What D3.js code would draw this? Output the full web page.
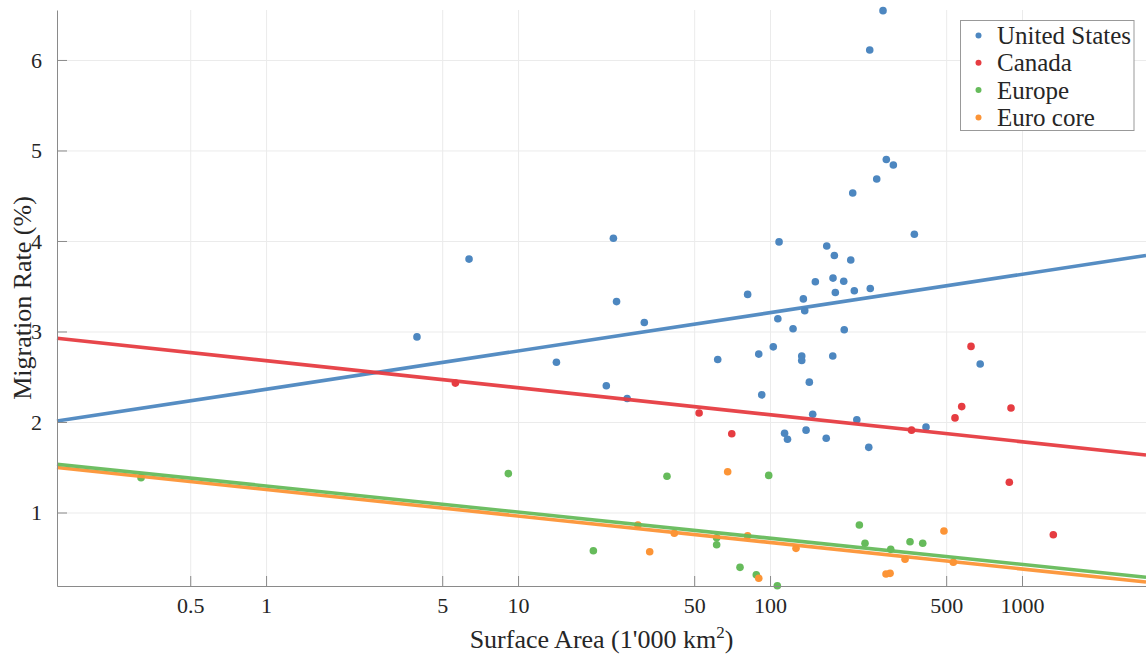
<!DOCTYPE html>
<html>
<head>
<meta charset="utf-8">
<script src="https://cdn.jsdelivr.net/npm/d3@7"></script>
<style>
  body { margin: 0; background: #fff; }
  svg text { font-family: "Liberation Serif", "Times New Roman", serif; fill: #262626; }
</style>
</head>
<body>
<script>
// surface area (1'000 km2) and migration rate (%)
const usArea = [3.97, 6.39, 14.2, 22.4, 23.9, 24.6, 27.1, 31.7, 62.0, 81.5, 90.2, 92.7, 103, 108.6, 107.4, 114.2,
  117.3, 123.4, 133.6, 133.6, 135.6, 137.3, 139.0, 143.2, 147.7, 151.3, 167.9, 167.1, 177.8, 180.0, 181.6, 196.1,
  197.0, 209.1, 212.9, 216.0, 221.0, 246.5, 249.9, 248.7, 265.1, 280.8, 289.4, 308.6, 373.9, 415.9, 682.4, 177.4];
const usRate = [2.94, 3.80, 2.66, 2.40, 4.03, 3.33, 2.26, 3.10, 2.69, 3.41, 2.75, 2.30, 2.83, 3.99, 3.14, 1.875,
  1.81, 3.03, 2.73, 2.68, 3.36, 3.23, 1.91, 2.44, 2.085, 3.55, 3.945, 1.82, 3.59, 3.84, 3.43, 3.555,
  3.02, 3.79, 4.53, 3.45, 2.025, 1.72, 3.475, 6.11, 4.685, 6.545, 4.90, 4.84, 4.074, 1.945, 2.64, 2.73];

const caArea = [5.64, 52.3, 70.5, 364.4, 542.1, 576.3, 627.6, 904.3, 890.5, 1331];
const caRate = [2.43, 2.10, 1.87, 1.91, 2.045, 2.17, 2.835, 2.155, 1.334, 0.755];

const euArea = [0.319, 9.15, 19.9, 39.0, 61.4, 61.4, 76.0, 88.2, 98.8, 106.9, 226.2, 238.2, 301.3, 359.4, 403.6];
const euRate = [1.385, 1.43, 0.578, 1.40, 0.644, 0.72, 0.394, 0.313, 1.41, 0.19, 0.862, 0.66, 0.593, 0.677, 0.66];

const coreArea = [29.9, 33.3, 41.7, 67.9, 81.5, 90.2, 126.8, 288.6, 299.5, 343.4, 490, 533.8];
const coreRate = [0.862, 0.567, 0.77, 1.45, 0.744, 0.273, 0.604, 0.32, 0.328, 0.483, 0.796, 0.45];

// fitted trend lines, value at left and right end of the x range
const fitArea = [0.148, 3105];
const usFit = [2.01, 3.84];
const caFit = [2.925, 1.635];
const euFit = [1.533, 0.285];
const coreFit = [1.497, 0.232];

const seriesNames = ["United States", "Canada", "Europe", "Euro core"];
const xTicks = [0.5, 1, 5, 10, 50, 100, 500, 1000];
const yTicks = [1, 2, 3, 4, 5, 6];

const colors = ["#4d87c0", "#e63c41", "#66bb5b", "#fc9436"];
const serif = "Liberation Serif";

const w = 1146, h = 656;
const margin = {top: 10, right: 0, bottom: 70, left: 57};

const svg = d3.select("body").append("svg")
  .attr("width", w)
  .attr("height", h);

const x = d3.scaleLog()
  .domain([0.148, 3105])
  .range([margin.left, w - margin.right]);

const y = d3.scaleLinear()
  .domain([0.188, 6.552])
  .range([h - margin.bottom, margin.top]);

// grid
svg.append("g")
  .attr("transform", `translate(0,${h - margin.bottom})`)
  .call(d3.axisBottom(x).tickValues(xTicks).tickSize(-(h - margin.bottom - margin.top)).tickFormat(""))
  .call(g => g.select(".domain").remove())
  .call(g => g.selectAll("line").attr("stroke", "#ebebeb"));

svg.append("g")
  .attr("transform", `translate(${margin.left},0)`)
  .call(d3.axisLeft(y).tickValues(yTicks).tickSize(-(w - margin.left - margin.right)).tickFormat(""))
  .call(g => g.select(".domain").remove())
  .call(g => g.selectAll("line").attr("stroke", "#ebebeb"));

// points
const groups = [
  [usArea, usRate],
  [caArea, caRate],
  [euArea, euRate],
  [coreArea, coreRate]
];

groups.forEach((s, i) => {
  svg.append("g")
    .attr("fill", colors[i])
    .selectAll("circle")
    .data(d3.zip(s[0], s[1]))
    .enter().append("circle")
    .attr("cx", d => x(d[0]))
    .attr("cy", d => y(d[1]))
    .attr("r", 3.8);
});

// trend lines
const fits = [usFit, caFit, coreFit, euFit];
const fitColors = [colors[0], colors[1], colors[3], colors[2]];
const line = d3.line().x(d => x(d[0])).y(d => y(d[1]));

fits.forEach((f, i) => {
  svg.append("path")
    .datum(d3.zip(fitArea, f))
    .attr("fill", "none")
    .attr("stroke", fitColors[i])
    .attr("stroke-opacity", 0.95)
    .attr("stroke-width", 3.6)
    .attr("d", line);
});

// axes
const xAxis = g => g
  .attr("transform", `translate(0,${h - margin.bottom})`)
  .attr("font-family", serif)
  .attr("font-size", 22)
  .call(d3.axisBottom(x).tickValues(xTicks).tickFormat(d3.format("~g")).tickSizeInner(-10).tickSizeOuter(0).tickPadding(11))
  .attr("font-family", serif)
  .attr("font-size", 22)
  .call(g => g.select(".domain").attr("stroke", "#8a8a8a"))
  .call(g => g.selectAll(".tick line").attr("stroke", "#8a8a8a"));

const yAxis = g => g
  .attr("transform", `translate(${margin.left},0)`)
  .call(d3.axisLeft(y).tickValues(yTicks).tickFormat(d3.format("~g")).tickSizeInner(-10).tickSizeOuter(0).tickPadding(15))
  .attr("font-family", serif)
  .attr("font-size", 22)
  .call(g => g.select(".domain").attr("stroke", "#8a8a8a"))
  .call(g => g.selectAll(".tick line").attr("stroke", "#8a8a8a"));

svg.append("g").call(xAxis);
svg.append("g").call(yAxis);

// axis titles
const xLabel = svg.append("text")
  .attr("x", (margin.left + w - margin.right) / 2)
  .attr("y", 648)
  .attr("text-anchor", "middle")
  .attr("font-family", serif)
  .attr("font-size", 26);
xLabel.append("tspan").text("Surface Area (1'000 km");
xLabel.append("tspan").attr("font-size", 17).attr("dy", -10).text("2");
xLabel.append("tspan").attr("dy", 10).text(")");

svg.append("text")
  .attr("transform", `translate(31,${(margin.top + h - margin.bottom) / 2}) rotate(-90)`)
  .attr("text-anchor", "middle")
  .attr("font-family", serif)
  .attr("font-size", 26)
  .text("Migration Rate (%)");

// legend
const legend = svg.append("g").attr("transform", "translate(960.5,20.5)");
legend.append("rect")
  .attr("width", 173.5)
  .attr("height", 110)
  .attr("fill", "#fff")
  .attr("stroke", "#999");

const item = legend.selectAll("g.item")
  .data(seriesNames)
  .enter().append("g")
  .attr("transform", (d, i) => `translate(0,${15 + i * 27.3})`);

item.append("circle")
  .attr("cx", 18)
  .attr("r", 3)
  .attr("fill", (d, i) => colors[i]);

item.append("text")
  .attr("x", 36.5)
  .attr("dy", "0.34em")
  .attr("font-family", serif)
  .attr("font-size", 25)
  .text(d => d);
</script>
</body>
</html>
